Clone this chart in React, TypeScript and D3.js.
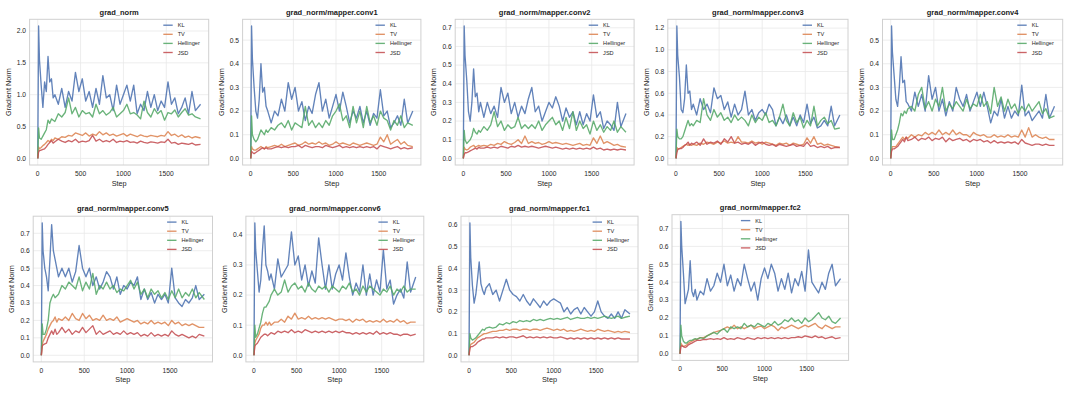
import React from "react";
import * as d3 from "d3";

// training steps shared by every series
const STEPS = [
  0, 10, 20, 40, 60, 80, 100, 120, 140, 160, 180, 200,
  240, 280, 320, 360, 400, 440, 480, 520, 560, 600, 640, 680, 720, 760,
  800, 840, 880, 920, 960, 1000, 1040, 1080, 1120, 1160, 1200, 1240, 1280, 1320,
  1360, 1400, 1440, 1480, 1520, 1560, 1600, 1640, 1680, 1720, 1760, 1800, 1840, 1900,
];

const SERIES = ["KL", "TV", "Hellinger", "JSD"];
const COLORS = ["#4C72B0", "#DD8452", "#55A868", "#C44E52"];
const X_TICKS = [0, 500, 1000, 1500];

// grad_norm
const gradNormKL = [
  0, 2.08, 1.55, 1.15, 0.8, 1.2, 1.05, 1.6, 1.2, 1.25, 0.95, 1.0,
  0.85, 1.1, 0.8, 1.05, 0.9, 1.35, 1.05, 1.25, 0.9, 1.05, 0.8, 1.1, 0.85, 1.3,
  0.95, 1.0, 0.75, 1.15, 0.85, 1.0, 1.15, 0.9, 1.15, 0.7, 0.85, 0.75, 1.05, 0.8,
  1.0, 0.75, 0.9, 0.8, 1.2, 0.85, 0.95, 0.7, 0.8, 0.95, 0.7, 1.05, 0.75, 0.85,
];
const gradNormTV = [
  0, 0.18, 0.15, 0.17, 0.2, 0.22, 0.25, 0.28, 0.26, 0.3, 0.28, 0.32,
  0.3, 0.34, 0.33, 0.36, 0.35, 0.4, 0.38, 0.36, 0.4, 0.35, 0.38, 0.36, 0.42, 0.37,
  0.4, 0.36, 0.38, 0.35, 0.37, 0.39, 0.35, 0.38, 0.36, 0.34, 0.37, 0.35, 0.34, 0.36,
  0.35, 0.34, 0.36, 0.35, 0.42, 0.36, 0.38, 0.34, 0.37, 0.33, 0.35, 0.32, 0.34, 0.32,
];
const gradNormHel = [
  0, 0.48, 0.32, 0.3, 0.35, 0.4, 0.45, 0.6, 0.55, 0.62, 0.6, 0.58,
  0.7, 0.65, 0.72, 0.95, 0.7, 0.8, 0.65, 0.75, 0.7, 0.72, 0.65, 0.85, 0.7, 0.75,
  0.68, 0.72, 0.8, 0.65, 0.7, 0.75, 0.85, 0.7, 0.72, 0.68, 0.62, 0.9, 0.72, 0.65,
  0.78, 0.7, 0.75, 0.6, 0.72, 0.7, 0.76, 0.65, 0.72, 0.78, 0.68, 0.7, 0.65, 0.62,
];
const gradNormJSD = [
  0, 0.1, 0.12, 0.13, 0.14, 0.15, 0.18, 0.22, 0.25, 0.28, 0.24, 0.26,
  0.3, 0.27, 0.25, 0.28, 0.26, 0.3, 0.25, 0.27, 0.26, 0.28, 0.36, 0.27, 0.3, 0.26,
  0.28, 0.26, 0.3, 0.25, 0.27, 0.26, 0.28, 0.25, 0.26, 0.24, 0.27, 0.25, 0.24, 0.26,
  0.25, 0.24, 0.26, 0.25, 0.3, 0.24, 0.25, 0.22, 0.24, 0.23, 0.22, 0.24, 0.21, 0.22,
];

// mapper.conv1
const conv1KL = [
  0, 0.56, 0.42, 0.3, 0.2, 0.17, 0.25, 0.4, 0.28, 0.3, 0.22, 0.2,
  0.15, 0.2, 0.18, 0.25, 0.2, 0.32, 0.25, 0.3, 0.2, 0.24, 0.16, 0.22, 0.19, 0.27,
  0.32, 0.2, 0.25, 0.17, 0.22, 0.27, 0.2, 0.28, 0.22, 0.15, 0.2, 0.17, 0.22, 0.15,
  0.2, 0.14, 0.19, 0.17, 0.29, 0.18, 0.2, 0.13, 0.15, 0.18, 0.14, 0.25, 0.15, 0.2,
];
const conv1TV = [
  0, 0.05, 0.04, 0.035, 0.035, 0.04, 0.045, 0.05, 0.045, 0.04, 0.05, 0.045,
  0.05, 0.055, 0.05, 0.06, 0.05, 0.055, 0.06, 0.065, 0.055, 0.06, 0.07, 0.06, 0.065, 0.06,
  0.07, 0.06, 0.065, 0.055, 0.06, 0.07, 0.06, 0.065, 0.06, 0.055, 0.065, 0.06, 0.055, 0.06,
  0.065, 0.06, 0.055, 0.06, 0.09, 0.07, 0.1, 0.06, 0.07, 0.08, 0.06, 0.07, 0.055, 0.05,
];
const conv1Hel = [
  0, 0.18, 0.1, 0.08, 0.07, 0.08, 0.1, 0.12, 0.11, 0.1, 0.12, 0.11,
  0.13, 0.12, 0.14, 0.15, 0.13, 0.16, 0.12, 0.15, 0.14, 0.13, 0.22, 0.14, 0.16, 0.13,
  0.15, 0.13, 0.16, 0.14, 0.18, 0.2, 0.23, 0.16, 0.18, 0.13, 0.22, 0.15, 0.2, 0.13,
  0.22, 0.15, 0.18, 0.14, 0.2, 0.17, 0.16, 0.12, 0.16, 0.14, 0.18, 0.13, 0.15, 0.14,
];
const conv1JSD = [
  0, 0.03, 0.025, 0.02, 0.025, 0.03, 0.035, 0.04, 0.045, 0.04, 0.045, 0.04,
  0.04, 0.045, 0.05, 0.045, 0.05, 0.045, 0.05, 0.05, 0.055, 0.045, 0.055, 0.05, 0.045, 0.05,
  0.05, 0.045, 0.055, 0.05, 0.045, 0.05, 0.055, 0.045, 0.05, 0.045, 0.05, 0.045, 0.05, 0.045,
  0.05, 0.045, 0.05, 0.04, 0.055, 0.05, 0.045, 0.04, 0.045, 0.05, 0.04, 0.045, 0.04, 0.045,
];

// mapper.conv2
const conv2KL = [
  0, 0.71, 0.55, 0.42, 0.25, 0.2, 0.3, 0.48, 0.33, 0.35, 0.25, 0.3,
  0.22, 0.3, 0.24, 0.28, 0.22, 0.38, 0.3, 0.35, 0.24, 0.3, 0.22, 0.28, 0.24, 0.32,
  0.38, 0.25, 0.28, 0.2, 0.25, 0.3, 0.27, 0.33, 0.28, 0.2, 0.27, 0.22, 0.25, 0.18,
  0.25, 0.18, 0.24, 0.2, 0.34, 0.22, 0.25, 0.16, 0.2, 0.18, 0.15, 0.3, 0.17, 0.24,
];
const conv2TV = [
  0, 0.06, 0.05, 0.045, 0.05, 0.06, 0.065, 0.07, 0.06, 0.065, 0.07, 0.065,
  0.07, 0.065, 0.075, 0.07, 0.08, 0.075, 0.09, 0.08, 0.075, 0.085, 0.1, 0.08, 0.12, 0.08,
  0.09, 0.08, 0.085, 0.075, 0.08, 0.09, 0.08, 0.085, 0.08, 0.075, 0.08, 0.075, 0.07, 0.075,
  0.08, 0.07, 0.075, 0.07, 0.11, 0.08, 0.12, 0.08, 0.09, 0.08, 0.07, 0.075, 0.065, 0.06,
];
const conv2Hel = [
  0, 0.15, 0.1, 0.08, 0.09, 0.1, 0.12, 0.16, 0.14, 0.13, 0.15, 0.14,
  0.17, 0.15, 0.18, 0.25, 0.17, 0.2, 0.15, 0.18, 0.16, 0.17, 0.22, 0.16, 0.18, 0.16,
  0.18, 0.16, 0.2, 0.15, 0.18, 0.2, 0.22, 0.18, 0.2, 0.15, 0.22, 0.16, 0.25, 0.15,
  0.2, 0.16, 0.18, 0.13, 0.2, 0.15, 0.18, 0.14, 0.17, 0.15, 0.2, 0.14, 0.17, 0.14,
];
const conv2JSD = [
  0, 0.02, 0.03, 0.03, 0.035, 0.04, 0.045, 0.05, 0.055, 0.05, 0.06, 0.055,
  0.055, 0.06, 0.055, 0.06, 0.055, 0.065, 0.06, 0.055, 0.065, 0.06, 0.07, 0.06, 0.065, 0.06,
  0.065, 0.06, 0.055, 0.06, 0.065, 0.06, 0.055, 0.06, 0.055, 0.05, 0.055, 0.05, 0.055, 0.05,
  0.055, 0.05, 0.055, 0.05, 0.06, 0.05, 0.055, 0.045, 0.05, 0.045, 0.05, 0.045, 0.05, 0.045,
];

// mapper.conv3
const conv3KL = [
  0, 1.22, 0.95, 0.75, 0.45, 0.42, 0.55, 0.86, 0.6, 0.62, 0.45, 0.5,
  0.4, 0.55, 0.45, 0.5, 0.42, 0.65, 0.55, 0.58, 0.45, 0.52, 0.38, 0.5, 0.4, 0.45,
  0.62, 0.4, 0.45, 0.35, 0.42, 0.45, 0.4, 0.5, 0.45, 0.3, 0.38, 0.32, 0.4, 0.3,
  0.38, 0.3, 0.4, 0.33, 0.5, 0.32, 0.38, 0.28, 0.3, 0.35, 0.3, 0.48, 0.3, 0.4,
];
const conv3TV = [
  0, 0.1, 0.09, 0.09, 0.1, 0.11, 0.12, 0.13, 0.12, 0.13, 0.12, 0.13,
  0.12, 0.14, 0.13, 0.15, 0.14, 0.13, 0.15, 0.14, 0.16, 0.14, 0.15, 0.14, 0.2, 0.15,
  0.15, 0.14, 0.16, 0.14, 0.15, 0.13, 0.15, 0.14, 0.13, 0.12, 0.14, 0.13, 0.14, 0.12,
  0.14, 0.13, 0.12, 0.13, 0.19, 0.14, 0.2, 0.13, 0.14, 0.12, 0.13, 0.12, 0.11, 0.1,
];
const conv3Hel = [
  0, 0.27, 0.2, 0.18, 0.18, 0.2, 0.25, 0.3, 0.35, 0.3, 0.32, 0.3,
  0.35, 0.33, 0.55, 0.4, 0.35, 0.45, 0.38, 0.42, 0.35, 0.38, 0.33, 0.4, 0.35, 0.38,
  0.35, 0.3, 0.4, 0.33, 0.38, 0.35, 0.42, 0.33, 0.35, 0.3, 0.38, 0.5, 0.35, 0.3,
  0.42, 0.33, 0.38, 0.28, 0.35, 0.3, 0.48, 0.3, 0.35, 0.38, 0.32, 0.35, 0.27, 0.28,
];
const conv3JSD = [
  0, 0.05, 0.08, 0.09, 0.09, 0.1, 0.12, 0.13, 0.15, 0.12, 0.14, 0.13,
  0.15, 0.12, 0.18, 0.13, 0.15, 0.14, 0.16, 0.13, 0.18, 0.15, 0.2, 0.14, 0.15, 0.13,
  0.14, 0.13, 0.15, 0.12, 0.14, 0.15, 0.13, 0.12, 0.13, 0.11, 0.13, 0.12, 0.11, 0.12,
  0.13, 0.11, 0.12, 0.11, 0.15, 0.11, 0.12, 0.1, 0.11, 0.1, 0.11, 0.09, 0.1, 0.1,
];

// mapper.conv4
const conv4KL = [
  0, 0.56, 0.45, 0.35, 0.25, 0.22, 0.3, 0.43, 0.32, 0.33, 0.24, 0.23,
  0.2, 0.28, 0.22, 0.27, 0.2, 0.35, 0.25, 0.3, 0.2, 0.25, 0.18, 0.24, 0.2, 0.3,
  0.25, 0.22, 0.27, 0.2, 0.24, 0.28, 0.22, 0.28, 0.22, 0.15, 0.2, 0.18, 0.25, 0.17,
  0.22, 0.17, 0.2, 0.18, 0.31, 0.18, 0.2, 0.16, 0.18, 0.2, 0.17, 0.27, 0.17, 0.22,
];
const conv4TV = [
  0, 0.04, 0.05, 0.05, 0.05, 0.06, 0.07, 0.08, 0.09, 0.08, 0.09, 0.085,
  0.1, 0.09, 0.1, 0.095, 0.11, 0.1, 0.11, 0.1, 0.12, 0.1, 0.11, 0.1, 0.12, 0.1,
  0.11, 0.1, 0.1, 0.09, 0.11, 0.1, 0.095, 0.1, 0.09, 0.09, 0.1, 0.09, 0.095, 0.09,
  0.1, 0.09, 0.095, 0.09, 0.12, 0.09, 0.13, 0.09, 0.1, 0.09, 0.085, 0.09, 0.08, 0.08,
];
const conv4Hel = [
  0, 0.12, 0.08, 0.08, 0.1, 0.12, 0.15, 0.19, 0.18, 0.2, 0.19, 0.21,
  0.22, 0.2, 0.27, 0.3, 0.21, 0.24, 0.2, 0.25, 0.22, 0.3, 0.2, 0.23, 0.21, 0.24,
  0.22, 0.2, 0.25, 0.21, 0.23, 0.22, 0.27, 0.22, 0.24, 0.19, 0.3, 0.22, 0.26, 0.2,
  0.25, 0.21, 0.23, 0.19, 0.22, 0.2, 0.23, 0.2, 0.22, 0.24, 0.19, 0.21, 0.17, 0.18,
];
const conv4JSD = [
  0, 0.03, 0.04, 0.04, 0.045, 0.05, 0.06, 0.07, 0.08, 0.07, 0.09, 0.075,
  0.08, 0.09, 0.075, 0.085, 0.08, 0.09, 0.075, 0.085, 0.08, 0.09, 0.07, 0.085, 0.075, 0.08,
  0.085, 0.075, 0.08, 0.07, 0.08, 0.075, 0.08, 0.07, 0.075, 0.065, 0.075, 0.065, 0.07, 0.065,
  0.07, 0.065, 0.07, 0.06, 0.08, 0.065, 0.06, 0.055, 0.06, 0.06, 0.055, 0.06, 0.055, 0.055,
];

// mapper.conv5
const conv5KL = [
  0, 0.76, 0.6, 0.5, 0.45, 0.37, 0.55, 0.75, 0.6, 0.55, 0.5, 0.45,
  0.5, 0.45, 0.5, 0.42, 0.48, 0.63, 0.5, 0.45, 0.5, 0.4, 0.45, 0.38, 0.42, 0.48,
  0.45, 0.38, 0.45, 0.35, 0.4, 0.38, 0.42, 0.4, 0.45, 0.32, 0.38, 0.32, 0.36, 0.3,
  0.35, 0.32, 0.35, 0.3, 0.5, 0.33, 0.3, 0.28, 0.32, 0.3, 0.33, 0.4, 0.32, 0.35,
];
const conv5TV = [
  0, 0.06, 0.08, 0.1, 0.12, 0.15, 0.17, 0.19, 0.2, 0.22, 0.19, 0.21,
  0.2, 0.22, 0.2, 0.24, 0.21, 0.2, 0.24, 0.21, 0.23, 0.2, 0.21, 0.2, 0.23, 0.2,
  0.21, 0.2, 0.22, 0.19, 0.2, 0.21, 0.2, 0.19, 0.2, 0.18, 0.19, 0.18, 0.2, 0.18,
  0.19, 0.18, 0.19, 0.17, 0.2, 0.18, 0.19, 0.17, 0.18, 0.17, 0.18, 0.17, 0.16, 0.16,
];
const conv5Hel = [
  0, 0.18, 0.12, 0.12, 0.15, 0.2, 0.3, 0.33, 0.35, 0.33, 0.34, 0.35,
  0.4, 0.38, 0.42, 0.4, 0.38, 0.45, 0.37, 0.42, 0.38, 0.47, 0.35, 0.4, 0.38, 0.42,
  0.38, 0.4, 0.36, 0.38, 0.37, 0.4, 0.43, 0.38, 0.42, 0.35, 0.38, 0.33, 0.38, 0.35,
  0.37, 0.33, 0.36, 0.32, 0.37, 0.33, 0.38, 0.33, 0.36, 0.34, 0.38, 0.33, 0.36, 0.32,
];
const conv5JSD = [
  0, 0.05, 0.06, 0.065, 0.07, 0.1, 0.12, 0.14, 0.12, 0.15, 0.12, 0.13,
  0.16, 0.13, 0.15, 0.12, 0.14, 0.13, 0.16, 0.13, 0.15, 0.17, 0.12, 0.14, 0.12, 0.13,
  0.14, 0.12, 0.13, 0.12, 0.14, 0.12, 0.13, 0.12, 0.13, 0.11, 0.12, 0.11, 0.13, 0.11,
  0.12, 0.11, 0.12, 0.11, 0.14, 0.12, 0.11, 0.12, 0.11, 0.1, 0.11, 0.1, 0.12, 0.11,
];

// mapper.conv6
const conv6KL = [
  0, 0.44, 0.35, 0.28, 0.21, 0.25, 0.35, 0.43, 0.3, 0.28, 0.25, 0.27,
  0.22, 0.32, 0.26, 0.28, 0.3, 0.41, 0.3, 0.33, 0.25, 0.3, 0.23, 0.28, 0.24, 0.39,
  0.3, 0.22, 0.3, 0.22, 0.27, 0.3, 0.25, 0.34, 0.26, 0.2, 0.24, 0.21, 0.3, 0.2,
  0.27, 0.2, 0.25, 0.21, 0.35, 0.22, 0.25, 0.17, 0.2, 0.22, 0.19, 0.31, 0.21, 0.26,
];
const conv6TV = [
  0, 0.04, 0.05, 0.06, 0.07, 0.09, 0.1, 0.1, 0.11, 0.1, 0.11, 0.1,
  0.11, 0.11, 0.12, 0.11, 0.13, 0.12, 0.14, 0.12, 0.125, 0.12, 0.13, 0.12, 0.125, 0.12,
  0.125, 0.12, 0.125, 0.12, 0.115, 0.12, 0.12, 0.115, 0.12, 0.11, 0.12, 0.115, 0.12, 0.11,
  0.115, 0.11, 0.115, 0.11, 0.12, 0.11, 0.115, 0.11, 0.12, 0.11, 0.115, 0.105, 0.11, 0.11,
];
const conv6Hel = [
  0, 0.1, 0.06, 0.07, 0.09, 0.11, 0.14, 0.16, 0.16, 0.17, 0.18, 0.2,
  0.22, 0.2, 0.21, 0.25, 0.21, 0.23, 0.24, 0.22, 0.23, 0.21, 0.24, 0.22, 0.21, 0.23,
  0.22, 0.23, 0.21, 0.23, 0.22, 0.21, 0.23, 0.22, 0.24, 0.21, 0.22, 0.2, 0.23, 0.21,
  0.23, 0.22, 0.21, 0.2, 0.22, 0.21, 0.23, 0.2, 0.22, 0.21, 0.23, 0.21, 0.22, 0.22,
];
const conv6JSD = [
  0, 0.03, 0.035, 0.04, 0.05, 0.06, 0.065, 0.07, 0.07, 0.065, 0.07, 0.075,
  0.07, 0.08, 0.075, 0.08, 0.075, 0.085, 0.075, 0.08, 0.075, 0.085, 0.08, 0.075, 0.08, 0.075,
  0.08, 0.075, 0.08, 0.075, 0.08, 0.075, 0.08, 0.075, 0.075, 0.07, 0.075, 0.07, 0.075, 0.07,
  0.075, 0.07, 0.08, 0.07, 0.075, 0.07, 0.075, 0.07, 0.07, 0.065, 0.07, 0.07, 0.065, 0.07,
];

// mapper.fc1
const fc1KL = [
  0, 0.61, 0.45, 0.32, 0.24, 0.28, 0.35, 0.43, 0.33, 0.3, 0.28, 0.31,
  0.33, 0.28, 0.3, 0.25, 0.3, 0.35, 0.3, 0.28, 0.27, 0.25, 0.28, 0.25, 0.23, 0.26,
  0.24, 0.22, 0.25, 0.23, 0.25, 0.26, 0.25, 0.24, 0.2, 0.22, 0.19, 0.21, 0.22, 0.19,
  0.22, 0.2, 0.18, 0.2, 0.25, 0.2, 0.18, 0.17, 0.19, 0.17, 0.2, 0.17, 0.21, 0.19,
];
const fc1TV = [
  0, 0.04, 0.05, 0.055, 0.06, 0.07, 0.08, 0.085, 0.09, 0.095, 0.1, 0.1,
  0.105, 0.11, 0.11, 0.115, 0.115, 0.12, 0.115, 0.12, 0.12, 0.115, 0.12, 0.12, 0.115, 0.12,
  0.12, 0.115, 0.12, 0.125, 0.12, 0.115, 0.12, 0.115, 0.12, 0.11, 0.115, 0.11, 0.115, 0.12,
  0.115, 0.11, 0.115, 0.11, 0.12, 0.115, 0.11, 0.115, 0.11, 0.105, 0.11, 0.105, 0.11, 0.105,
];
const fc1Hel = [
  0, 0.1, 0.08, 0.07, 0.075, 0.08, 0.09, 0.1, 0.11, 0.12, 0.115, 0.125,
  0.13, 0.125, 0.13, 0.145, 0.14, 0.15, 0.145, 0.155, 0.15, 0.16, 0.155, 0.16, 0.155, 0.165,
  0.16, 0.165, 0.16, 0.165, 0.17, 0.165, 0.17, 0.165, 0.17, 0.175, 0.165, 0.17, 0.175, 0.17,
  0.17, 0.175, 0.17, 0.175, 0.17, 0.175, 0.18, 0.175, 0.17, 0.175, 0.18, 0.17, 0.175, 0.18,
];
const fc1JSD = [
  0, 0.03, 0.04, 0.04, 0.045, 0.05, 0.06, 0.065, 0.07, 0.075, 0.075, 0.08,
  0.08, 0.08, 0.085, 0.08, 0.085, 0.08, 0.085, 0.085, 0.08, 0.085, 0.09, 0.08, 0.085, 0.08,
  0.085, 0.08, 0.085, 0.08, 0.085, 0.08, 0.08, 0.085, 0.08, 0.075, 0.08, 0.075, 0.08, 0.075,
  0.08, 0.075, 0.08, 0.075, 0.08, 0.075, 0.08, 0.075, 0.08, 0.075, 0.08, 0.075, 0.075, 0.075,
];

// mapper.fc2
const fc2KL = [
  0, 0.74, 0.6, 0.45, 0.28, 0.32, 0.36, 0.52, 0.35, 0.32, 0.36, 0.3,
  0.35, 0.33, 0.42, 0.35, 0.38, 0.45, 0.4, 0.5, 0.38, 0.44, 0.35, 0.42, 0.38, 0.5,
  0.42, 0.35, 0.4, 0.3, 0.42, 0.48, 0.42, 0.5, 0.45, 0.35, 0.42, 0.36, 0.45, 0.34,
  0.42, 0.38, 0.46, 0.35, 0.58, 0.4, 0.37, 0.34, 0.4, 0.36, 0.45, 0.5, 0.38, 0.42,
];
const fc2TV = [
  0, 0.06, 0.05, 0.04, 0.045, 0.05, 0.06, 0.065, 0.07, 0.075, 0.08, 0.08,
  0.09, 0.09, 0.1, 0.11, 0.12, 0.125, 0.13, 0.14, 0.15, 0.14, 0.16, 0.14, 0.15, 0.14,
  0.15, 0.16, 0.14, 0.15, 0.155, 0.14, 0.15, 0.16, 0.15, 0.13, 0.15, 0.14, 0.15, 0.16,
  0.15, 0.14, 0.15, 0.16, 0.15, 0.16, 0.17, 0.15, 0.14, 0.16, 0.15, 0.14, 0.15, 0.15,
];
const fc2Hel = [
  0, 0.16, 0.1, 0.07, 0.06, 0.06, 0.07, 0.075, 0.075, 0.08, 0.085, 0.08,
  0.09, 0.085, 0.1, 0.11, 0.12, 0.11, 0.13, 0.14, 0.12, 0.15, 0.14, 0.15, 0.14, 0.17,
  0.15, 0.16, 0.15, 0.17, 0.16, 0.15, 0.17, 0.16, 0.18, 0.16, 0.17, 0.19, 0.18, 0.2,
  0.18, 0.19, 0.17, 0.2, 0.18, 0.19, 0.21, 0.23, 0.2, 0.19, 0.21, 0.18, 0.17, 0.2,
];
const fc2JSD = [
  0, 0.04, 0.045, 0.04, 0.035, 0.04, 0.05, 0.055, 0.06, 0.065, 0.07, 0.075,
  0.075, 0.08, 0.08, 0.085, 0.08, 0.085, 0.08, 0.09, 0.08, 0.085, 0.08, 0.09, 0.085, 0.08,
  0.09, 0.085, 0.08, 0.09, 0.085, 0.09, 0.085, 0.09, 0.085, 0.09, 0.085, 0.09, 0.085, 0.09,
  0.09, 0.095, 0.09, 0.1, 0.095, 0.09, 0.1, 0.09, 0.095, 0.085, 0.09, 0.095, 0.085, 0.09,
];

const TITLES = [
  "grad_norm",
  "grad_norm/mapper.conv1",
  "grad_norm/mapper.conv2",
  "grad_norm/mapper.conv3",
  "grad_norm/mapper.conv4",
  "grad_norm/mapper.conv5",
  "grad_norm/mapper.conv6",
  "grad_norm/mapper.fc1",
  "grad_norm/mapper.fc2",
];
const VALUES = [
  [gradNormKL, gradNormTV, gradNormHel, gradNormJSD],
  [conv1KL, conv1TV, conv1Hel, conv1JSD],
  [conv2KL, conv2TV, conv2Hel, conv2JSD],
  [conv3KL, conv3TV, conv3Hel, conv3JSD],
  [conv4KL, conv4TV, conv4Hel, conv4JSD],
  [conv5KL, conv5TV, conv5Hel, conv5JSD],
  [conv6KL, conv6TV, conv6Hel, conv6JSD],
  [fc1KL, fc1TV, fc1Hel, fc1JSD],
  [fc2KL, fc2TV, fc2Hel, fc2JSD],
];
const Y_TICK_STEP = [0.5, 0.1, 0.1, 0.2, 0.1, 0.1, 0.1, 0.1, 0.1];

// axes boxes in pixels: [left, right, top, bottom]
const FRAMES = [
  [29.6, 208.7, 19.3, 165],
  [242.6, 420.9, 19.3, 165],
  [455.2, 634.1, 19.3, 165],
  [667.8, 848, 19.3, 165],
  [882.5, 1062.7, 19.3, 165],
  [33.2, 212.5, 216.2, 361.9],
  [245.9, 423.8, 216.2, 361.9],
  [461, 638, 216.2, 361.9],
  [672, 848.6, 214.7, 360.4],
];
const LEGEND_CENTER = [false, false, false, false, false, false, false, false, true];

const FONT = "'Liberation Sans', Arial, Helvetica, sans-serif";
const TEXT = "#262626";

const Panel = ({ idx }) => {
  const [l, r, t, b] = FRAMES[idx];
  const series = VALUES[idx];

  const [s0, s1] = d3.extent(STEPS);
  const padX = (s1 - s0) * 0.05;
  const x = d3.scaleLinear().domain([s0 - padX, s1 + padX]).range([l, r]);

  const vMin = d3.min(series, (s) => d3.min(s));
  const vMax = d3.max(series, (s) => d3.max(s));
  const padY = (vMax - vMin) * 0.05;
  const y = d3.scaleLinear().domain([vMin - padY, vMax + padY]).range([b, t]);

  const step = Y_TICK_STEP[idx];
  const yTicks = d3.range(0, vMax + padY + 1e-9, step);

  const line = d3
    .line()
    .x((d) => x(d[0]))
    .y((d) => y(d[1]));

  const legW = 45.4;
  const legLeft = LEGEND_CENTER[idx] ? (l + r) / 2 - legW / 2 : r - 3.3 - legW;

  return (
    <g>
      <rect x={l} y={t} width={r - l} height={b - t} fill="#ffffff" />
      {X_TICKS.map((v) => (
        <line key={"gx" + v} x1={x(v)} x2={x(v)} y1={t} y2={b} stroke="#e8e8e8" strokeWidth={0.8} />
      ))}
      {yTicks.map((v) => (
        <line key={"gy" + v} x1={l} x2={r} y1={y(v)} y2={y(v)} stroke="#e8e8e8" strokeWidth={0.8} />
      ))}
      <g clipPath={`url(#clip${idx})`}>
        {series.map((vals, i) => (
          <path
            key={SERIES[i]}
            d={line(STEPS.map((s, j) => [s, vals[j]]))}
            fill="none"
            stroke={COLORS[i]}
            strokeWidth={1.35}
            strokeOpacity={0.88}
            strokeLinejoin="round"
          />
        ))}
      </g>
      <rect x={l} y={t} width={r - l} height={b - t} fill="none" stroke="#d0d0d0" strokeWidth={1} />
      {X_TICKS.map((v) => (
        <text key={"tx" + v} x={x(v)} y={b + 10.7} textAnchor="middle" fontSize={6.7} fill={TEXT} fontFamily={FONT}>
          {v}
        </text>
      ))}
      {yTicks.map((v) => (
        <text key={"ty" + v} x={l - 3.5} y={y(v) + 2.4} textAnchor="end" fontSize={6.7} fill={TEXT} fontFamily={FONT}>
          {v.toFixed(1)}
        </text>
      ))}
      <text x={(l + r) / 2} y={t - 4.8} textAnchor="middle" fontSize={7.5} fontWeight="bold" fill="#1a1a1a" fontFamily={FONT}>
        {TITLES[idx]}
      </text>
      <text x={(l + r) / 2} y={b + 20.5} textAnchor="middle" fontSize={7.3} fill={TEXT} fontFamily={FONT}>
        Step
      </text>
      <text
        transform={`translate(${l - 21.5},${(t + b) / 2}) rotate(-90)`}
        textAnchor="middle"
        dy="0.35em"
        fontSize={7.3}
        fill={TEXT}
        fontFamily={FONT}
      >
        Gradient Norm
      </text>
      {SERIES.map((name, i) => {
        const ly = t + 5.9 + i * 9.1;
        return (
          <g key={"lg" + name}>
            <line x1={legLeft + 3.3} x2={legLeft + 12.7} y1={ly} y2={ly} stroke={COLORS[i]} strokeWidth={1.35} strokeOpacity={0.88} />
            <text x={legLeft + 17.7} y={ly + 2} fontSize={5.6} fill={TEXT} fontFamily={FONT}>
              {name}
            </text>
          </g>
        );
      })}
    </g>
  );
};

const App = () => {
  return (
    <svg
      width={1069}
      height={393}
      style={{ position: "absolute", left: 0, top: 0, background: "#ffffff" }}
    >
      <defs>
        {FRAMES.map(([l, r, t, b], i) => (
          <clipPath key={i} id={`clip${i}`}>
            <rect x={l} y={t} width={r - l} height={b - t} />
          </clipPath>
        ))}
      </defs>
      <rect width={1069} height={393} fill="#ffffff" />
      {TITLES.map((_, i) => (
        <Panel key={i} idx={i} />
      ))}
    </svg>
  );
};

export default App;
